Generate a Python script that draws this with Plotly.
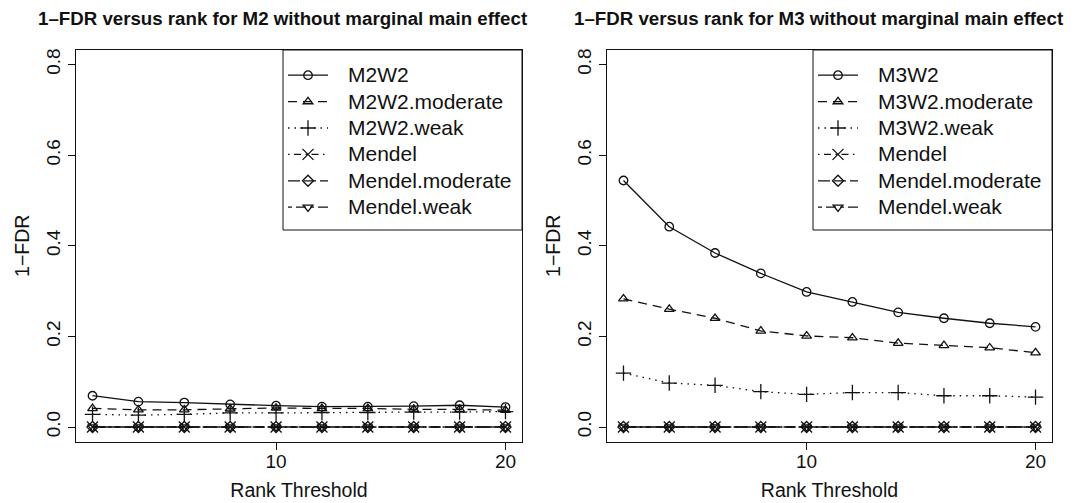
import plotly.graph_objects as go

# The page body has an 8px margin, so the figure starts at (8, 8) in the window.
OFF = 8
W, H = 1076 - OFF, 503 - OFF

# ---------------- data ----------------
rank = [2, 4, 6, 8, 10, 12, 14, 16, 18, 20]

m2w2 = [0.069, 0.056, 0.054, 0.050, 0.047, 0.045, 0.045, 0.046, 0.048, 0.044]
m2w2_moderate = [0.041, 0.038, 0.038, 0.040, 0.042, 0.041, 0.041, 0.039, 0.039, 0.037]
m2w2_weak = [0.028, 0.026, 0.028, 0.031, 0.031, 0.032, 0.032, 0.033, 0.033, 0.034]

m3w2 = [0.544, 0.442, 0.384, 0.339, 0.298, 0.276, 0.253, 0.240, 0.229, 0.221]
m3w2_moderate = [0.283, 0.260, 0.240, 0.212, 0.201, 0.197, 0.185, 0.180, 0.175, 0.164]
m3w2_weak = [0.119, 0.097, 0.092, 0.078, 0.072, 0.076, 0.076, 0.069, 0.069, 0.066]

mendel = [0.0, 0.0, 0.0, 0.0, 0.0, 0.0, 0.0, 0.0, 0.0, 0.0]
mendel_moderate = [0.0, 0.0, 0.0, 0.0, 0.0, 0.0, 0.0, 0.0, 0.0, 0.0]
mendel_weak = [0.0, 0.0, 0.0, 0.0, 0.0, 0.0, 0.0, 0.0, 0.0, 0.0]

y_tickvals = [0.0, 0.2, 0.4, 0.6, 0.8]
y_ticktext = ["0.0", "0.2", "0.4", "0.6", "0.8"]
x_tickvals = [10, 20]

titles = ["1\u2013FDR versus rank for M2 without marginal main effect",
          "1\u2013FDR versus rank for M3 without marginal main effect"]

# ---------------- styles ----------------
FONT = "Liberation Sans, Arial, Helvetica, sans-serif"
INK = "#111111"
LW = 1.3

DASH_SOLID = "solid"
DASH_DASHED = "9px,6px"
DASH_DOTTED = "1.5px,5px"
DASH_DOTDASH = "1.5px,4.5px,7px,4.5px"
DASH_LONG = "12px,4px"
DASH_TWO = "4px,4px,10px,4px"

left_series = [
    ("M2W2", m2w2, "circle-open", DASH_SOLID),
    ("M2W2.moderate", m2w2_moderate, "triangle-up-open", DASH_DASHED),
    ("M2W2.weak", m2w2_weak, "cross-thin-open", DASH_DOTTED),
    ("Mendel", mendel, "x-thin-open", DASH_DOTDASH),
    ("Mendel.moderate", mendel_moderate, "diamond-open", DASH_LONG),
    ("Mendel.weak", mendel_weak, "triangle-down-open", DASH_TWO),
]
right_series = [
    ("M3W2", m3w2, "circle-open", DASH_SOLID),
    ("M3W2.moderate", m3w2_moderate, "triangle-up-open", DASH_DASHED),
    ("M3W2.weak", m3w2_weak, "cross-thin-open", DASH_DOTTED),
    ("Mendel", mendel, "x-thin-open", DASH_DOTDASH),
    ("Mendel.moderate", mendel_moderate, "diamond-open", DASH_LONG),
    ("Mendel.weak", mendel_weak, "triangle-down-open", DASH_TWO),
]

fig = go.Figure()

SPACER = "<span style='font-size:18px'>\u00a0\u00a0\u00a0</span>"


def add_series(series, xa, ya, leg, tag):
    for i, (name, vals, sym, dash) in enumerate(series):
        big = sym in ("cross-thin-open", "x-thin-open")
        fig.add_trace(go.Scatter(
            x=rank, y=vals, mode="lines+markers",
            name=SPACER + "<span style='font-size:21px'>%s</span>" % name,
            xaxis=xa, yaxis=ya, legend=leg, legendgroup="%s%d" % (tag, i),
            line=dict(color=INK, width=LW, dash=dash),
            marker=dict(symbol=sym, size=11 if big else 8.5, color=INK,
                        line=dict(color=INK, width=1.3)),
        ))


add_series(left_series, "x", "y", "legend", "L")
add_series(right_series, "x2", "y2", "legend2", "R")

# plot-region geometry (window pixels)
L1, R1 = 76, 522
L2, R2 = 607, 1052
TOP, BOT = 50, 441.5
LEG_L1, LEG_L2 = 283, 813
LEG_BOT = 230


def px_x(p):
    return (p - OFF) / W


def px_y(p):
    return 1 - (p - OFF) / H


axis_common = dict(
    showline=True, mirror=True, linecolor=INK, linewidth=1,
    showgrid=False, zeroline=False,
    ticks="outside", ticklen=7, tickwidth=1, tickcolor=INK,
    tickfont=dict(family=FONT, size=19, color=INK),
)

xcommon = dict(axis_common, range=[1.28, 20.72], tickvals=x_tickvals,
               ticklabelstandoff=-4,
               title=dict(text="Rank Threshold", standoff=12,
                          font=dict(family=FONT, size=19.5, color=INK)))
ycommon = dict(axis_common, range=[-0.032, 0.832], tickvals=y_tickvals,
               ticktext=y_ticktext, tickangle=-90,
               title=dict(text="1\u2212FDR", standoff=8,
                          font=dict(family=FONT, size=19.5, color=INK)))

legend_common = dict(
    xanchor="left", yanchor="top", y=px_y(57),
    bgcolor="rgba(0,0,0,0)", borderwidth=0,
    font=dict(family=FONT, size=18, color=INK),
    traceorder="grouped", tracegroupgap=0, itemwidth=40,
    itemclick=False, itemdoubleclick=False,
)

shapes = []
for lx, rx in ((LEG_L1, R1), (LEG_L2, R2)):
    shapes.append(dict(type="rect", xref="paper", yref="paper",
                       x0=px_x(lx), x1=px_x(rx), y0=px_y(LEG_BOT), y1=px_y(TOP),
                       line=dict(color=INK, width=1), fillcolor="white",
                       layer="below"))

fig.update_layout(
    width=W, height=H,
    margin=dict(l=0, r=0, t=0, b=0),
    template="none",
    paper_bgcolor="white", plot_bgcolor="rgba(0,0,0,0)",
    showlegend=True,
    xaxis=dict(xcommon, domain=[px_x(L1), px_x(R1)], anchor="y"),
    yaxis=dict(ycommon, domain=[px_y(BOT), px_y(TOP)], anchor="x"),
    xaxis2=dict(xcommon, domain=[px_x(L2), px_x(R2)], anchor="y2"),
    yaxis2=dict(ycommon, domain=[px_y(BOT), px_y(TOP)], anchor="x2"),
    legend=dict(legend_common, x=px_x(LEG_L1)),
    legend2=dict(legend_common, x=px_x(LEG_L2)),
    shapes=shapes,
    annotations=[
        dict(text="<b>%s</b>" % titles[0], x=px_x(282), y=px_y(18),
             xref="paper", yref="paper", xanchor="center", yanchor="middle",
             showarrow=False, font=dict(family=FONT, size=18.7, color=INK)),
        dict(text="<b>%s</b>" % titles[1], x=px_x(818), y=px_y(18),
             xref="paper", yref="paper", xanchor="center", yanchor="middle",
             showarrow=False, font=dict(family=FONT, size=18.7, color=INK)),
    ],
)

fig.write_html("out.html")
